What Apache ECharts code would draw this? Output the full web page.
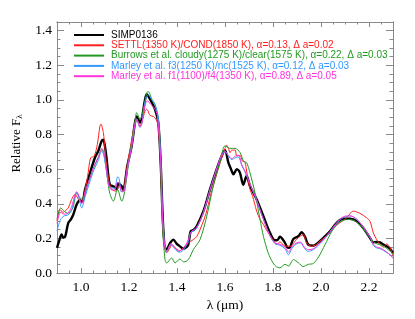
<!DOCTYPE html>
<html><head><meta charset="utf-8">
<script src="https://cdn.jsdelivr.net/npm/echarts@6/dist/echarts.min.js"></script>
<style>html,body{margin:0;padding:0;background:#fff}#c{width:415px;height:319px}</style>
</head><body><div id="c"></div>
<script>
// ---- data ----
const seriesNames = [
  'SIMP0136',
  'SETTL(1350 K)/COND(1850 K), \u03b1=0.13, \u0394 a=0.02',
  'Burrows et al. cloudy(1275 K)/clear(1575 K), \u03b1=0.22, \u0394 a=0.03',
  'Marley et al. f3(1250 K)/nc(1525 K), \u03b1=0.12, \u0394 a=0.03',
  'Marley et al. f1(1100)/f4(1350 K), \u03b1=0.89, \u0394 a=0.05'
];
const xTickLabels = [1.0, 1.2, 1.4, 1.6, 1.8, 2.0, 2.2];
const yTickLabels = [0.0, 0.2, 0.4, 0.6, 0.8, 1.0, 1.2, 1.4];

const simpWave = [0.900,0.910,0.919,0.926,0.934,0.947,0.958,0.968,0.982,0.996,1.005,1.017,1.0375,1.058,1.072,1.086,1.093,1.100,1.107,1.114,1.121,1.135,1.142,1.149,1.155,1.163,1.170,1.176,1.193,1.211,1.225,1.232,1.240,1.246,1.253,1.267,1.274,1.281,1.295,1.308,1.322,1.332,1.343,1.354,1.363,1.372,1.385,1.398,1.4125,1.426,1.440,1.447,1.457,1.470,1.482,1.510,1.5375,1.565,1.586,1.600,1.614,1.625,1.635,1.649,1.662,1.676,1.690,1.704,1.732,1.760,1.7875,1.808,1.818,1.829,1.850,1.862,1.871,1.885,1.905,1.919,1.933,1.947,1.968,1.989,2.010,2.0375,2.065,2.093,2.121,2.149,2.176,2.204,2.218,2.232,2.246,2.260,2.274,2.288,2.300];
const simpFlux = [0.145,0.19,0.222,0.205,0.21,0.29,0.31,0.338,0.396,0.42,0.41,0.483,0.579,0.666,0.705,0.762,0.77,0.73,0.656,0.56,0.51,0.50,0.495,0.483,0.517,0.51,0.50,0.48,0.618,0.733,0.869,0.904,0.885,0.869,0.888,1.004,1.033,1.02,0.985,0.946,0.869,0.637,0.251,0.135,0.15,0.175,0.193,0.17,0.154,0.14,0.15,0.164,0.241,0.25,0.27,0.357,0.483,0.599,0.676,0.71,0.637,0.60,0.57,0.60,0.58,0.51,0.56,0.503,0.425,0.328,0.232,0.189,0.19,0.209,0.174,0.145,0.148,0.197,0.212,0.235,0.21,0.164,0.158,0.177,0.203,0.241,0.29,0.313,0.313,0.299,0.26,0.203,0.177,0.18,0.177,0.165,0.154,0.14,0.116];

const settlWave = [0.900,0.9125,0.925,0.935,0.947,0.961,0.975,0.990,1.003,1.017,1.030,1.040,1.055,1.068,1.079,1.083,1.093,1.100,1.107,1.117,1.128,1.146,1.158,1.170,1.176,1.188,1.204,1.225,1.232,1.246,1.253,1.267,1.274,1.288,1.302,1.312,1.322,1.332,1.343,1.357,1.371,1.378,1.392,1.410,1.425,1.447,1.468,1.482,1.496,1.520,1.540,1.565,1.585,1.600,1.607,1.614,1.621,1.628,1.642,1.649,1.663,1.672,1.683,1.690,1.704,1.715,1.732,1.746,1.760,1.780,1.800,1.815,1.829,1.850,1.871,1.900,1.926,1.940,1.960,1.980,2.000,2.030,2.065,2.107,2.134,2.162,2.190,2.204,2.218,2.232,2.246,2.260,2.274,2.288,2.300];
const settlFlux = [0.30,0.367,0.35,0.36,0.376,0.425,0.454,0.425,0.405,0.48,0.58,0.665,0.675,0.743,0.849,0.86,0.811,0.72,0.618,0.53,0.483,0.473,0.50,0.483,0.473,0.58,0.714,0.87,0.89,0.85,0.87,0.936,0.946,0.91,0.904,0.888,0.85,0.60,0.23,0.116,0.145,0.164,0.145,0.125,0.145,0.174,0.193,0.21,0.25,0.34,0.45,0.57,0.66,0.72,0.738,0.72,0.695,0.71,0.71,0.676,0.68,0.647,0.64,0.589,0.483,0.444,0.357,0.31,0.28,0.232,0.193,0.164,0.18,0.155,0.155,0.197,0.222,0.174,0.155,0.164,0.19,0.22,0.275,0.319,0.357,0.345,0.319,0.299,0.232,0.193,0.164,0.15,0.168,0.145,0.10];

const burrowsWave = [0.900,0.915,0.930,0.945,0.966,0.982,0.996,1.007,1.030,1.050,1.070,1.086,1.095,1.110,1.120,1.135,1.152,1.170,1.183,1.204,1.225,1.232,1.246,1.260,1.274,1.281,1.295,1.308,1.322,1.332,1.340,1.350,1.357,1.378,1.392,1.412,1.428,1.447,1.468,1.496,1.524,1.551,1.579,1.600,1.621,1.642,1.663,1.677,1.690,1.704,1.725,1.746,1.760,1.780,1.800,1.815,1.829,1.850,1.865,1.885,1.905,1.926,1.947,1.968,1.990,2.017,2.045,2.065,2.093,2.121,2.149,2.176,2.204,2.225,2.260,2.288,2.300];
const burrowsFlux = [0.31,0.376,0.357,0.345,0.376,0.463,0.435,0.425,0.52,0.60,0.66,0.714,0.69,0.55,0.46,0.415,0.483,0.415,0.48,0.695,0.87,0.927,0.888,0.946,1.043,1.047,1.004,0.975,0.888,0.637,0.27,0.077,0.058,0.087,0.058,0.081,0.064,0.077,0.135,0.193,0.328,0.502,0.637,0.735,0.72,0.72,0.695,0.647,0.637,0.579,0.463,0.309,0.212,0.116,0.058,0.035,0.03,0.05,0.04,0.077,0.06,0.037,0.05,0.055,0.093,0.164,0.241,0.28,0.305,0.309,0.295,0.255,0.203,0.174,0.155,0.126,0.107];

const marley3Wave = [0.900,0.915,0.930,0.945,0.960,0.975,0.982,0.990,1.003,1.017,1.035,1.055,1.072,1.086,1.095,1.107,1.115,1.128,1.140,1.153,1.160,1.167,1.176,1.193,1.211,1.225,1.232,1.246,1.253,1.267,1.281,1.295,1.308,1.322,1.332,1.343,1.357,1.375,1.390,1.410,1.425,1.447,1.457,1.482,1.510,1.5375,1.565,1.586,1.600,1.614,1.628,1.642,1.656,1.670,1.683,1.704,1.732,1.760,1.7875,1.808,1.829,1.850,1.864,1.880,1.900,1.915,1.930,1.947,1.968,1.989,2.010,2.0375,2.065,2.093,2.121,2.149,2.176,2.204,2.218,2.232,2.246,2.260,2.274,2.288,2.300];
const marley3Flux = [0.245,0.31,0.33,0.335,0.36,0.44,0.465,0.44,0.376,0.44,0.52,0.60,0.65,0.705,0.68,0.58,0.51,0.49,0.49,0.556,0.54,0.47,0.47,0.60,0.73,0.86,0.89,0.84,0.86,0.99,1.03,1.00,0.975,0.90,0.66,0.26,0.12,0.165,0.14,0.12,0.13,0.18,0.23,0.26,0.35,0.48,0.60,0.68,0.705,0.675,0.655,0.665,0.67,0.62,0.585,0.515,0.42,0.31,0.215,0.17,0.16,0.14,0.105,0.145,0.17,0.174,0.145,0.125,0.135,0.16,0.19,0.235,0.285,0.32,0.33,0.31,0.265,0.21,0.16,0.145,0.14,0.13,0.118,0.105,0.09];

const marley1Wave = [0.900,0.915,0.930,0.945,0.960,0.975,0.982,0.992,1.003,1.017,1.035,1.055,1.072,1.088,1.097,1.107,1.115,1.128,1.140,1.153,1.162,1.170,1.178,1.193,1.211,1.225,1.232,1.246,1.253,1.267,1.277,1.290,1.305,1.318,1.332,1.343,1.357,1.375,1.390,1.410,1.425,1.447,1.457,1.482,1.510,1.5375,1.565,1.586,1.600,1.614,1.628,1.642,1.656,1.670,1.683,1.704,1.732,1.760,1.7875,1.808,1.829,1.850,1.864,1.880,1.900,1.915,1.930,1.947,1.968,1.989,2.010,2.0375,2.065,2.093,2.121,2.149,2.176,2.204,2.218,2.232,2.246,2.260,2.274,2.288,2.300];
const marley1Flux = [0.285,0.35,0.34,0.345,0.38,0.45,0.47,0.44,0.40,0.47,0.54,0.62,0.67,0.72,0.69,0.59,0.51,0.48,0.48,0.525,0.51,0.47,0.47,0.60,0.73,0.86,0.885,0.845,0.86,0.97,0.995,0.975,0.955,0.91,0.65,0.24,0.12,0.17,0.15,0.13,0.14,0.19,0.235,0.265,0.35,0.48,0.60,0.68,0.70,0.68,0.66,0.675,0.68,0.625,0.59,0.515,0.42,0.31,0.215,0.175,0.165,0.15,0.12,0.155,0.175,0.178,0.15,0.135,0.14,0.165,0.195,0.24,0.29,0.325,0.33,0.31,0.265,0.21,0.165,0.15,0.145,0.135,0.12,0.105,0.085];

// ---- chart ----
const colors = ['#000000', '#ff2020', '#229a22', '#3399ff', '#ff33dd'];
const widths = [2.4, 1, 1, 1, 1];
const waves = [simpWave, settlWave, burrowsWave, marley3Wave, marley1Wave];
const fluxes = [simpFlux, settlFlux, burrowsFlux, marley3Flux, marley1Flux];

const xMin = 0.9, xMax = 2.3, yMin = 0, yMax = 1.45;
const xMinor = [], yMinor = [];
for (let i = 0; i <= 28; i++) xMinor.push(+(0.9 + i * 0.05).toFixed(2));
for (let i = 0; i <= 29; i++) yMinor.push(+(i * 0.05).toFixed(2));

const axisGray = '#8a8a8a';
const serif = 'Liberation Serif, Times New Roman, serif';
const sans = 'Liberation Sans, Arial, Helvetica, sans-serif';

function xAx(pos, ticks, len, opts) {
  return Object.assign({
    type: 'value', position: pos, min: xMin, max: xMax, gridIndex: 0,
    axisLine: { show: true, onZero: false, lineStyle: { color: axisGray, width: 1 } },
    axisTick: { show: true, inside: true, length: len, customValues: ticks, lineStyle: { color: axisGray } },
    axisLabel: { show: false },
    splitLine: { show: false }
  }, opts || {});
}
function yAx(pos, ticks, len, opts) {
  return Object.assign({
    type: 'value', position: pos, min: yMin, max: yMax, gridIndex: 0,
    axisLine: { show: true, onZero: false, lineStyle: { color: axisGray, width: 1 } },
    axisTick: { show: true, inside: true, length: len, customValues: ticks, lineStyle: { color: axisGray } },
    axisLabel: { show: false },
    splitLine: { show: false }
  }, opts || {});
}

const series = waves.map((w, k) => ({
  name: seriesNames[k],
  type: 'line',
  xAxisIndex: 0, yAxisIndex: 0,
  data: w.map((x, i) => [x, fluxes[k][i]]),
  showSymbol: false, symbol: 'none',
  smooth: 0.3,
  z: k === 0 ? 2 : 3,
  lineStyle: { color: colors[k], width: widths[k] },
  itemStyle: { color: colors[k] },
  animation: false
}));

const option = {
  animation: false,
  grid: { left: 57, right: 22, top: 22, bottom: 46, containLabel: false },
  legend: {
    orient: 'vertical', left: 68, top: 25,
    itemWidth: 30, itemHeight: 10, itemGap: 0.3,
    itemStyle: { opacity: 0, color: 'rgba(0,0,0,0)', borderWidth: 0 },
    textStyle: { fontFamily: sans, fontSize: 10, lineHeight: 10, padding: [0, 0, 0, 2] },
    data: seriesNames.map((n, k) => ({ name: n, textStyle: { color: colors[k] } })),
    selectedMode: false
  },
  xAxis: [
    xAx('bottom', xMinor, 2.5, {
      axisLabel: { show: true, customValues: xTickLabels, formatter: v => v.toFixed(1),
        fontFamily: serif, fontSize: 13.5, color: '#000', margin: 7 },
      name: '\u03bb (\u03bcm)', nameLocation: 'middle', nameGap: 21,
      nameTextStyle: { fontFamily: serif, fontSize: 13.5, color: '#000' }
    }),
    xAx('bottom', xTickLabels, 5),
    xAx('top', xMinor, 2.5),
    xAx('top', xTickLabels, 5)
  ],
  yAxis: [
    yAx('left', yMinor, 3.5, {
      axisLabel: { show: true, customValues: yTickLabels, formatter: v => v.toFixed(1),
        fontFamily: serif, fontSize: 13.5, color: '#000', margin: 5 },
      name: 'Relative F{s|\u03bb}', nameLocation: 'middle', nameGap: 30, nameRotate: 90,
      nameTextStyle: { fontFamily: serif, fontSize: 13, color: '#000', padding: [0, 0, 0, 8],
        rich: { s: { fontFamily: serif, fontSize: 9, padding: [7, 0, 0, 0], color: '#000' } } }
    }),
    yAx('left', yTickLabels, 7),
    yAx('right', yMinor, 3.5),
    yAx('right', yTickLabels, 7)
  ],
  series: series
};
const chart = echarts.init(document.getElementById('c'), null, { renderer: 'canvas' });
chart.setOption(option);
</script>
</body></html>
